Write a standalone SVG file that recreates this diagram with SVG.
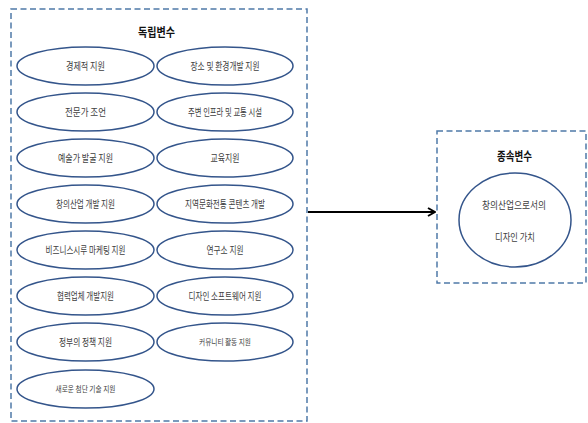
<svg xmlns="http://www.w3.org/2000/svg" width="588" height="423" viewBox="0 0 588 423">
<defs>
<style>
.box{fill:none;stroke:#4f79a8;stroke-width:1.5;stroke-dasharray:6 3.5}
.el{fill:#fff;stroke:#34558b;stroke-width:1.5}
.t{font-family:"Noto Sans CJK KR","Noto Sans",sans-serif;font-size:10px;fill:#404040;text-anchor:middle}
.s{font-size:8.5px}
.h{font-family:"Noto Sans CJK KR","Noto Sans",sans-serif;font-size:12px;font-weight:bold;fill:#111;text-anchor:middle}
</style>
<marker id="ah" viewBox="0 0 10 10" refX="9" refY="5" markerWidth="10" markerHeight="10" markerUnits="userSpaceOnUse" orient="auto">
<path d="M2,1 L9,5 L2,9" fill="none" stroke="#000" stroke-width="2"/>
</marker>
</defs>
<rect width="588" height="423" fill="#fff"/>
<g id="independent">
<rect class="box" x="11" y="9" width="296" height="412"/>
<text class="h" x="156.5" y="37" textLength="37" lengthAdjust="spacingAndGlyphs">독립변수</text>
</g>
<g id="dependent">
<rect class="box" x="437" y="131" width="149" height="152"/>
<text class="h" x="514.5" y="161" textLength="35" lengthAdjust="spacingAndGlyphs">종속변수</text>
</g>
<g id="n1"><ellipse class="el" cx="85.5" cy="66" rx="68.5" ry="19"/><text class="t" x="85.5" y="69.5" textLength="39" lengthAdjust="spacingAndGlyphs">경제적 지원</text></g>
<g id="n2"><ellipse class="el" cx="225" cy="66" rx="68" ry="19"/><text class="t" x="225" y="69.5" textLength="69" lengthAdjust="spacingAndGlyphs">장소 및 환경개발 지원</text></g>
<g id="n3"><ellipse class="el" cx="85.5" cy="112" rx="68.5" ry="19"/><text class="t" x="85.5" y="115.5" textLength="41" lengthAdjust="spacingAndGlyphs">전문가 조언</text></g>
<g id="n4"><ellipse class="el" cx="225" cy="112" rx="68" ry="19"/><text class="t" x="225" y="115.5" textLength="74" lengthAdjust="spacingAndGlyphs">주변 인프라 및 교통 시설</text></g>
<g id="n5"><ellipse class="el" cx="85.5" cy="158" rx="68.5" ry="19"/><text class="t" x="85.5" y="161.5" textLength="55" lengthAdjust="spacingAndGlyphs">예술가 발굴 지원</text></g>
<g id="n6"><ellipse class="el" cx="225" cy="158" rx="68" ry="19"/><text class="t" x="225" y="161.5" textLength="29" lengthAdjust="spacingAndGlyphs">교육지원</text></g>
<g id="n7"><ellipse class="el" cx="85.5" cy="204" rx="68.5" ry="19"/><text class="t" x="85.5" y="207.5" textLength="59" lengthAdjust="spacingAndGlyphs">창의산업 개발 지원</text></g>
<g id="n8"><ellipse class="el" cx="225" cy="204" rx="68" ry="19"/><text class="t" x="225" y="207.5" textLength="80" lengthAdjust="spacingAndGlyphs">지역문화전통 콘텐츠 개발</text></g>
<g id="n9"><ellipse class="el" cx="85.5" cy="250" rx="68.5" ry="19"/><text class="t" x="85.5" y="253.5" textLength="80" lengthAdjust="spacingAndGlyphs">비즈니스시루 마케팅 지원</text></g>
<g id="n10"><ellipse class="el" cx="225" cy="250" rx="68" ry="19"/><text class="t" x="225" y="253.5" textLength="37" lengthAdjust="spacingAndGlyphs">연구소 지원</text></g>
<g id="n11"><ellipse class="el" cx="85.5" cy="296" rx="68.5" ry="19"/><text class="t" x="85.5" y="299.5" textLength="57" lengthAdjust="spacingAndGlyphs">협력업체 개발지원</text></g>
<g id="n12"><ellipse class="el" cx="225" cy="296" rx="68" ry="19"/><text class="t" x="225" y="299.5" textLength="73" lengthAdjust="spacingAndGlyphs">디자인 소프트웨어 지원</text></g>
<g id="n13"><ellipse class="el" cx="85.5" cy="342" rx="68.5" ry="19"/><text class="t" x="85.5" y="345.5" textLength="53" lengthAdjust="spacingAndGlyphs">정부의 정책 지원</text></g>
<g id="n14"><ellipse class="el" cx="225" cy="342" rx="68" ry="19"/><text class="t s" x="225" y="345" textLength="52" lengthAdjust="spacingAndGlyphs">커뮤니티 활동 지원</text></g>
<g id="n15"><ellipse class="el" cx="85.5" cy="389" rx="68.5" ry="19"/><text class="t s" x="85.5" y="392" textLength="60" lengthAdjust="spacingAndGlyphs">새로운 첨단 기술 지원</text></g>
<g id="n16"><ellipse class="el" cx="515" cy="220" rx="56" ry="47"/>
<text class="t" x="514" y="208.5" textLength="64" lengthAdjust="spacingAndGlyphs">창의산업으로서의</text>
<text class="t" x="515" y="240.5" textLength="40" lengthAdjust="spacingAndGlyphs">디자인 가치</text></g>
<g id="connectors">
<line x1="308" y1="212" x2="435" y2="212" stroke="#000" stroke-width="2" marker-end="url(#ah)"/>
</g>
</svg>
